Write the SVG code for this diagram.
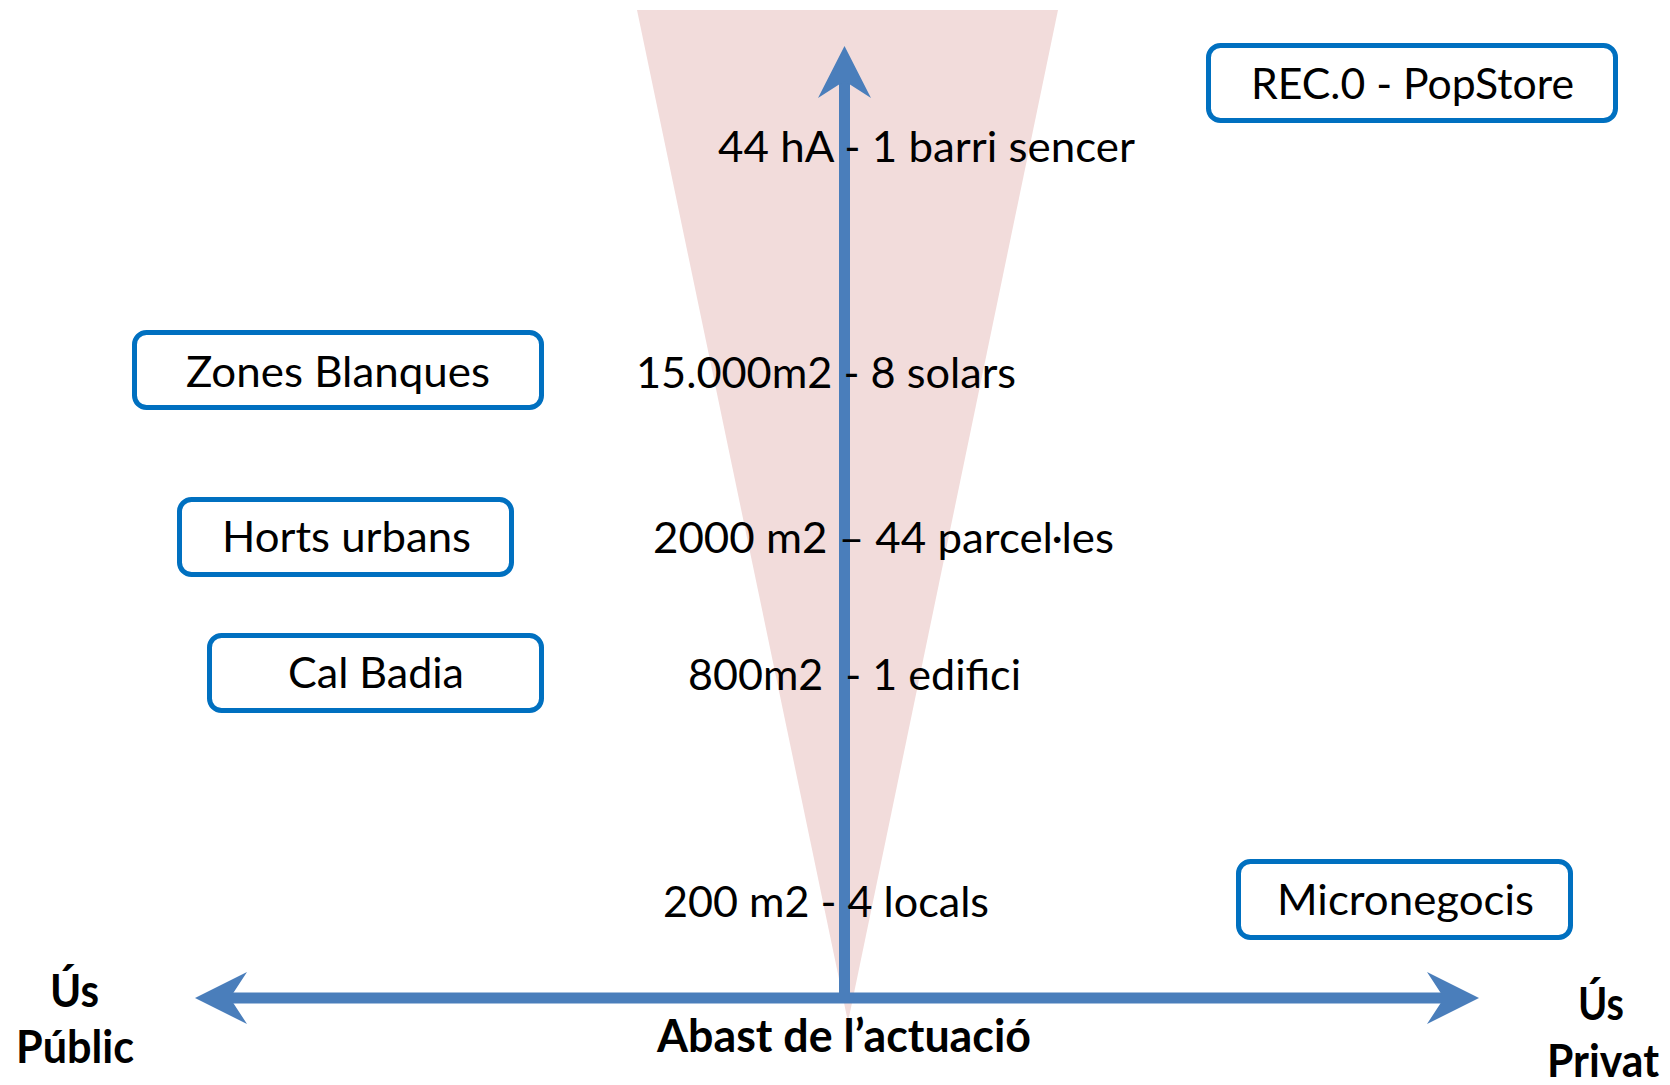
<svg xmlns="http://www.w3.org/2000/svg" width="1670" height="1085" viewBox="0 0 1670 1085">
<style>
.t{font-family:Lato,"Liberation Sans",sans-serif;font-size:42px;fill:#000}
.b{font-family:Lato,"Liberation Sans",sans-serif;font-size:46px;font-weight:bold;fill:#000}
.box{fill:#fff;stroke:#0070C0;stroke-width:5}
.ax{fill:#4A7EBB}
</style>
<rect width="1670" height="1085" fill="#fff"/>
<polygon id="cone" points="637,10 1058,10 848,1022" fill="#F2DCDB"/>
<g id="connectors">
<g id="axis-horizontal" class="ax">
<rect x="229" y="992.5" width="1215" height="11"/>
<polygon points="195,998 247,972 230,998 247,1024"/>
<polygon points="1479,998 1427,972 1444,998 1427,1024"/>
</g>
<g id="axis-vertical" class="ax">
<rect x="839" y="80" width="11" height="918"/>
<polygon points="844.5,46 871,98 844.5,81 818,98"/>
</g>
</g>
<g id="scale-44ha"><text class="t" x="718" y="162" textLength="417" lengthAdjust="spacingAndGlyphs">44 hA - 1 barri sencer</text></g>
<g id="scale-15000"><text class="t" x="636" y="388" textLength="380" lengthAdjust="spacingAndGlyphs">15.000m2 - 8 solars</text></g>
<g id="scale-2000"><text class="t" x="653" y="553" textLength="461" lengthAdjust="spacingAndGlyphs">2000 m2 – 44 parcel·les</text></g>
<g id="scale-800"><text class="t" x="688" y="690" textLength="333" lengthAdjust="spacingAndGlyphs" xml:space="preserve">800m2  - 1 edifici</text></g>
<g id="scale-200"><text class="t" x="663" y="917" textLength="326" lengthAdjust="spacingAndGlyphs">200 m2 - 4 locals</text></g>
<g id="node-rec0">
<rect class="box" x="1208.5" y="45.5" width="407" height="75" rx="12"/>
<text class="t" x="1251" y="99" textLength="323" lengthAdjust="spacingAndGlyphs">REC.0 - PopStore</text>
</g>
<g id="node-zones">
<rect class="box" x="134.5" y="332.5" width="407" height="75" rx="12"/>
<text class="t" x="186" y="387" textLength="304" lengthAdjust="spacingAndGlyphs">Zones Blanques</text>
</g>
<g id="node-horts">
<rect class="box" x="179.5" y="499.5" width="332" height="75" rx="12"/>
<text class="t" x="222" y="552" textLength="249" lengthAdjust="spacingAndGlyphs">Horts urbans</text>
</g>
<g id="node-calbadia">
<rect class="box" x="209.5" y="635.5" width="332" height="75" rx="12"/>
<text class="t" x="288" y="688" textLength="176" lengthAdjust="spacingAndGlyphs">Cal Badia</text>
</g>
<g id="node-micronegocis">
<rect class="box" x="1238.5" y="861.5" width="332" height="76" rx="12"/>
<text class="t" x="1277" y="915" textLength="257" lengthAdjust="spacingAndGlyphs">Micronegocis</text>
</g>
<g id="label-public">
<text class="b" x="50" y="1007" textLength="49" lengthAdjust="spacingAndGlyphs">Ús</text>
<text class="b" x="16" y="1063" textLength="118" lengthAdjust="spacingAndGlyphs">Públic</text>
</g>
<g id="label-abast"><text class="b" x="657" y="1052" textLength="374" lengthAdjust="spacingAndGlyphs">Abast de l’actuació</text></g>
<g id="label-privat">
<text class="b" x="1578" y="1020" textLength="46" lengthAdjust="spacingAndGlyphs">Ús</text>
<text class="b" x="1547" y="1077" textLength="112" lengthAdjust="spacingAndGlyphs">Privat</text>
</g>
</svg>
